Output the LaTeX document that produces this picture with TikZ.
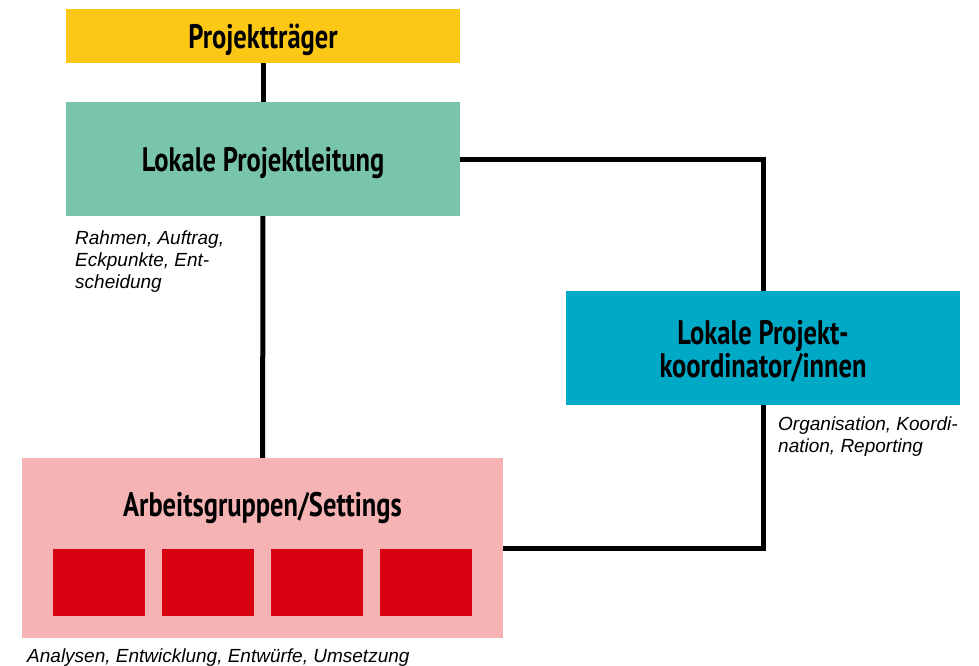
\documentclass[tikz,border=0pt]{standalone}
\usepackage{fontspec}
\setmainfont{Liberation Sans}
\newfontfamily\headfont[FakeStretch=0.78]{PT Sans}
\usepackage{tikz}

\definecolor{traegergelb}{HTML}{FDC815}
\definecolor{leitungsgruen}{HTML}{78C4AC}
\definecolor{koordblau}{HTML}{00AAC7}
\definecolor{gruppenrosa}{HTML}{F5B3B4}
\definecolor{gruppenrot}{HTML}{D90012}

\begin{document}
\begin{tikzpicture}[x=1pt, y=-1pt, every node/.style={inner sep=0pt},
	box/.style={fill=#1, minimum width=394pt, minimum height=114pt},
	titel/.style={font=\headfont\bfseries\fontsize{34}{33}\selectfont, align=center},
	notiz/.style={font=\itshape\fontsize{19}{22}\selectfont, align=left, anchor=north west},
	feld/.style={fill=gruppenrot, minimum width=92pt, minimum height=67pt},
	verbindung/.style={line width=5pt}]
	\useasboundingbox (0,0) rectangle (979,666);
	% Kaesten
	\node[box=traegergelb, minimum height=54pt] (traeger) at (263,36) {};
	\node[box=leitungsgruen] (leitung) at (263,159) {};
	\node[box=koordblau] (koord) at (763,348) {};
	\node[box=gruppenrosa, minimum width=481pt, minimum height=180pt] (gruppen) at (262.5,548) {};
	\foreach \i/\x in {1/99, 2/208, 3/317, 4/426}
		\node[feld] (feld\i) at (\x,582) {};
	% Titel
	\node[titel] (traegertitel) at (263,40) {Projektträger};
	\node[titel] (leitungstitel) at (263,163) {Lokale Projektleitung};
	\node[titel] (koordtitel) at (763,351) {Lokale Projekt-\\koordinator/innen};
	\node[titel] (gruppentitel) at (262.5,508) {Arbeitsgruppen/Settings};
	% Verbindungen
	\draw[verbindung] (traeger) -- (leitung);
	\draw[verbindung] (leitung) -- (gruppen);
	\draw[verbindung] (leitung.east) -| (koord.north);
	\draw[verbindung] (koord.south) |- (gruppen.east);
	% Notizen
	\node[notiz] (notizleitung) at (75,231) {Rahmen, Auftrag,\\Eckpunkte, Ent-\\scheidung};
	\node[notiz] (notizkoord) at (778,417) {Organisation, Koordi-\\nation, Reporting};
	\node[notiz] (notizgruppen) at (27,649) {Analysen, Entwicklung, Entwürfe, Umsetzung};
\end{tikzpicture}
\end{document}
